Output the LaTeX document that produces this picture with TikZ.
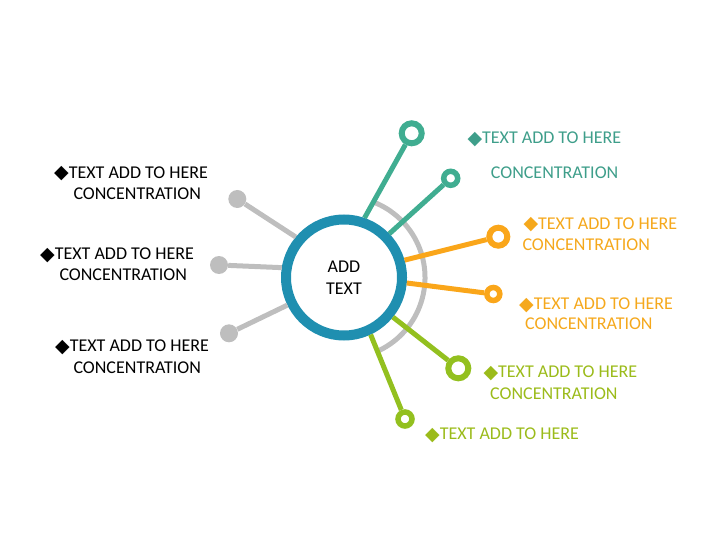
\documentclass[tikz,border=0pt]{standalone}
\usepackage{fontspec}
\setmainfont{Carlito}
\newfontfamily\symfont{DejaVu Sans}
\usepackage{tikz}
\usetikzlibrary{positioning}
\definecolor{hubblue}{RGB}{31,143,176}
\definecolor{tealgreen}{RGB}{64,173,145}
\definecolor{tealtext}{RGB}{62,158,138}
\definecolor{orangeline}{RGB}{250,166,26}
\definecolor{orangetext}{RGB}{245,168,28}
\definecolor{limeline}{RGB}{147,192,31}
\definecolor{limetext}{RGB}{155,187,26}
\definecolor{spokegray}{RGB}{190,190,190}
\newcommand{\dia}{{\symfont\fontsize{19}{19}\selectfont\raisebox{-0.5pt}{◆}}}

\begin{document}
\begin{tikzpicture}[x=1pt, y=-1pt,
	hub/.style={circle, draw=hubblue, line width=10pt, minimum size=116pt, inner sep=0pt, align=center, font=\fontsize{18}{22}\selectfont},
	ring/.style={circle, draw=#1, fill=white, line width=6pt, inner sep=0pt},
	dot/.style={circle, fill=spokegray, minimum size=18pt, inner sep=0pt},
	spoke/.style={line width=5pt, draw=#1},
	tagtext/.style={anchor=base west, inner sep=0pt, font=\fontsize{18}{22}\selectfont, text=#1}]
	\useasboundingbox (0,0) rectangle (720,540);

	\draw (344,277.5) node[hub] (hub) {ADD\\TEXT}
		(411.7,133.3) node[ring=tealgreen, minimum size=20pt] (tq1) {}
		(450.7,178.3) node[ring=tealgreen, minimum size=14pt, line width=5.5pt] (tq2) {}
		(498.3,236.7) node[ring=orangeline, minimum size=18pt] (or1) {}
		(493.3,294) node[ring=orangeline, minimum size=13pt, line width=5.5pt] (or2) {}
		(458.3,368.3) node[ring=limeline, minimum size=20pt] (lm1) {}
		(405,419) node[ring=limeline, minimum size=14pt, line width=5.5pt] (lm2) {}
		(237.3,199) node[dot] (gy1) {}
		(219,265) node[dot] (gy2) {}
		(229,333.3) node[dot] (gy3) {};

	\draw[line width=5pt, draw=spokegray] (hub.center) ++(-69:81) arc[start angle=-69, end angle=67, radius=81];

	\draw[spoke=tealgreen] (hub.71) -- (tq1);
	\draw[spoke=tealgreen] (hub.44) -- (tq2);
	\draw[spoke=orangeline] (hub.16) -- (or1);
	\draw[spoke=orangeline] (hub.-5) -- (or2);
	\draw[spoke=limeline] (hub.-39) -- (lm1);
	\draw[spoke=limeline] (hub.-65) -- (lm2);
	\draw[spoke=spokegray] (hub.140) -- (gy1);
	\draw[spoke=spokegray] (hub.171) -- (gy2);
	\draw[spoke=spokegray] (hub.206) -- (gy3);

	\draw (467.3,143.8) node[tagtext=tealtext] (ttq1) {\dia TEXT ADD TO HERE}
		(490.7,178.3) node[tagtext=tealtext] (ttq1b) {CONCENTRATION}
		(523.3,229.3) node[tagtext=orangetext] (tor1) {\dia TEXT ADD TO HERE}
		(522.3,250.8) node[tagtext=orangetext] (tor1b) {CONCENTRATION}
		(519,309.8) node[tagtext=orangetext] (tor2) {\dia TEXT ADD TO HERE}
		(525,329.8) node[tagtext=orangetext] (tor2b) {CONCENTRATION}
		(483.3,377.8) node[tagtext=limetext] (tlm1) {\dia TEXT ADD TO HERE}
		(490,399.3) node[tagtext=limetext] (tlm1b) {CONCENTRATION}
		(425,439.8) node[tagtext=limetext] (tlm2) {\dia TEXT ADD TO HERE}
		(54,178.3) node[tagtext=black] (tgy1) {\dia TEXT ADD TO HERE}
		(73.3,199.8) node[tagtext=black] (tgy1b) {CONCENTRATION}
		(40,259.8) node[tagtext=black] (tgy2) {\dia TEXT ADD TO HERE}
		(59.3,280.5) node[tagtext=black] (tgy2b) {CONCENTRATION}
		(55,351.8) node[tagtext=black] (tgy3) {\dia TEXT ADD TO HERE}
		(73.3,373.3) node[tagtext=black] (tgy3b) {CONCENTRATION};
\end{tikzpicture}
\end{document}
